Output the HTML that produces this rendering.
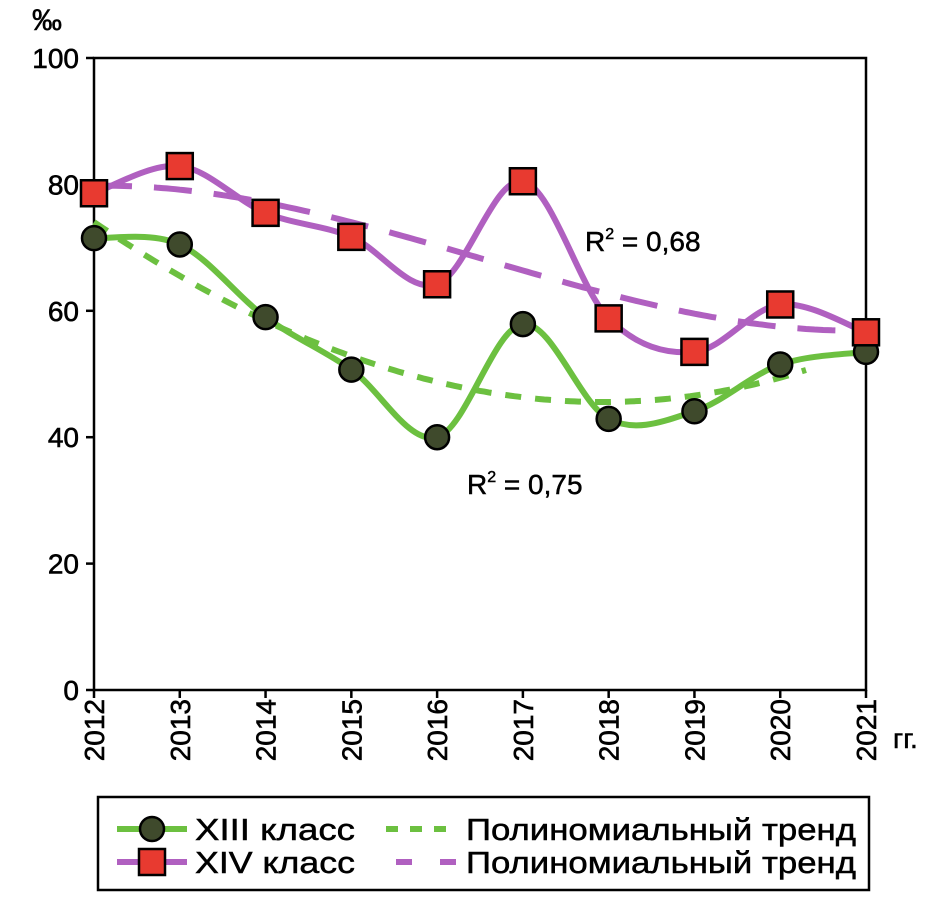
<!DOCTYPE html>
<html><head><meta charset="utf-8"><style>
body{margin:0;background:#fff;}
svg{display:block;font-family:"Liberation Sans",sans-serif;}
</style></head><body>
<svg id="c" width="933" height="898" viewBox="0 0 933 898"></svg>
<script>
const years=["2012","2013","2014","2015","2016","2017","2018","2019","2020","2021"];
const s13=[71.5,70.5,59,50.7,40,57.9,42.9,44.1,51.5,53.5];
const s14=[78.6,82.9,75.5,71.7,64.2,80.5,58.8,53.5,61,56.6];
const yTicks=[0,20,40,60,80,100];
const r2Labels=["0,75","0,68"];
const X0=94,X1=866,Y0=690,Y1=58;
const xs=i=>X0+i*(X1-X0)/(years.length-1);
const ys=v=>Y0-(v/100)*(Y0-Y1);
const svg=document.getElementById('c');
const NS="http://www.w3.org/2000/svg";
function mk(t,a,p){const e=document.createElementNS(NS,t);for(const k in a)e.setAttribute(k,a[k]);(p||svg).appendChild(e);return e;}
const box=mk('rect',{x:X0,y:Y1,width:X1-X0,height:Y0-Y1,fill:'none',stroke:'#000','stroke-width':2.5});


yTicks.forEach(v=>{
 const t=mk('line',{x1:X0-8,x2:X0,y1:ys(v),y2:ys(v),stroke:'#000','stroke-width':2.5});
 
 
 const l=mk('text',{x:X0-15,y:ys(v)+10,'text-anchor':'end','font-size':28,stroke:'#000','stroke-width':0.6});
 l.textContent=v;
 
 
});
years.forEach((y,i)=>{
 const t=mk('line',{x1:xs(i),x2:xs(i),y1:Y0,y2:Y0+8,stroke:'#000','stroke-width':2.5});
 
 
 const l=mk('text',{x:0,y:0,'text-anchor':'end','font-size':28,stroke:'#000','stroke-width':0.6,transform:`translate(${xs(i)+10},699) rotate(-90)`});
 l.textContent=y;
 
 
});
function txt(x,y,s,name,fs){const t=mk('text',{x:x,y:y,'font-size':fs||27,stroke:'#000','stroke-width':0.5});t.innerHTML=s;return t;}
txt(32,30,'‰','y-axis-unit',30);
txt(893,748,'гг.','x-axis-unit',28);
function fit(vals,deg){const n=vals.length,m=deg+1,A=[],b=[];
 for(let r=0;r<m;r++){A.push([]);for(let c=0;c<m;c++){let s=0;for(let i=0;i<n;i++)s+=Math.pow(i,r+c);A[r].push(s);}let s=0;for(let i=0;i<n;i++)s+=vals[i]*Math.pow(i,r);b.push(s);}
 for(let k=0;k<m;k++){let p=k;for(let r=k+1;r<m;r++)if(Math.abs(A[r][k])>Math.abs(A[p][k]))p=r;[A[k],A[p]]=[A[p],A[k]];[b[k],b[p]]=[b[p],b[k]];
  for(let r=k+1;r<m;r++){const f=A[r][k]/A[k][k];for(let c=k;c<m;c++)A[r][c]-=f*A[k][c];b[r]-=f*b[k];}}
 const co=new Array(m).fill(0);for(let k=m-1;k>=0;k--){let s=b[k];for(let c=k+1;c<m;c++)s-=A[k][c]*co[c];co[k]=s/A[k][k];}
 return t=>co.reduce((a,c,j)=>a+c*Math.pow(t,j),0);}
function trend(vals,col,dash,tEnd,name){const f=fit(vals,3);let d='';
 for(let t=0;t<=tEnd+1e-9;t+=0.05){d+=(d?'L':'M')+(X0+t*(X1-X0)/(years.length-1)).toFixed(1)+','+ys(f(t)).toFixed(1);}
 const p=mk('path',{d:d,fill:'none',stroke:col,'stroke-width':6,'stroke-dasharray':dash});
 
 }
function smooth(vals){const P=vals.map((v,i)=>[xs(i),ys(v)]);let d='M'+P[0];
 for(let i=0;i<P.length-1;i++){const p0=P[i-1]||P[i],p1=P[i],p2=P[i+1],p3=P[i+2]||P[i+1];
  const c1=[p1[0]+(p2[0]-p0[0])/6,p1[1]+(p2[1]-p0[1])/6],c2=[p2[0]-(p3[0]-p1[0])/6,p2[1]-(p3[1]-p1[1])/6];
  d+='C'+c1+' '+c2+' '+p2;}return d;}
trend(s14,'#b060c0','38 22',9,'trend-xiv');
trend(s13,'#6cc040','16 14',8.3,'trend-xiii');
const l14=mk('path',{d:smooth(s14),fill:'none',stroke:'#b060c0','stroke-width':6});


const l13=mk('path',{d:smooth(s13),fill:'none',stroke:'#6cc040','stroke-width':6});


s13.forEach((v,i)=>{const c=mk('circle',{cx:xs(i),cy:ys(v),r:12,fill:'#3f4a2c',stroke:'#000','stroke-width':2.5});
 
 });
s14.forEach((v,i)=>{const r=mk('rect',{x:xs(i)-13,y:ys(v)-13,width:26,height:26,fill:'#e83a30',stroke:'#000','stroke-width':2.5});
 
 });
txt(467,494,'R<tspan font-size="16" dy="-12">2</tspan><tspan dy="12"> = '+r2Labels[0]+'</tspan>','r2-xiii',28);
txt(585,251,'R<tspan font-size="16" dy="-12">2</tspan><tspan dy="12"> = '+r2Labels[1]+'</tspan>','r2-xiv',28);
const lg=mk('g',{});
mk('rect',{x:98,y:797,width:771,height:93,fill:'#fff',stroke:'#000','stroke-width':2.5},lg);
mk('line',{x1:117,x2:187,y1:829,y2:829,stroke:'#6cc040','stroke-width':6},lg);
mk('circle',{cx:152,cy:829,r:12,fill:'#3f4a2c',stroke:'#000','stroke-width':2.5},lg);
mk('line',{x1:117,x2:187,y1:862,y2:862,stroke:'#b060c0','stroke-width':6},lg);
mk('rect',{x:139,y:849,width:26,height:26,fill:'#e83a30',stroke:'#000','stroke-width':2.5},lg);
mk('line',{x1:386,x2:458,y1:829,y2:829,stroke:'#6cc040','stroke-width':6,'stroke-dasharray':'12 12'},lg);
mk('line',{x1:396,x2:466,y1:862,y2:862,stroke:'#b060c0','stroke-width':6,'stroke-dasharray':'16 28'},lg);
[['XIII класс',195,840,160],['XIV класс',195,873,160],['Полиномиальный тренд',466,840,390],['Полиномиальный тренд',466,873,390]].forEach(a=>{
 const t=mk('text',{x:a[1],y:a[2],'font-size':31,stroke:'#000','stroke-width':0.5,textLength:a[3],lengthAdjust:'spacingAndGlyphs'},lg);t.textContent=a[0];
 
 });
</script>
</body></html>
